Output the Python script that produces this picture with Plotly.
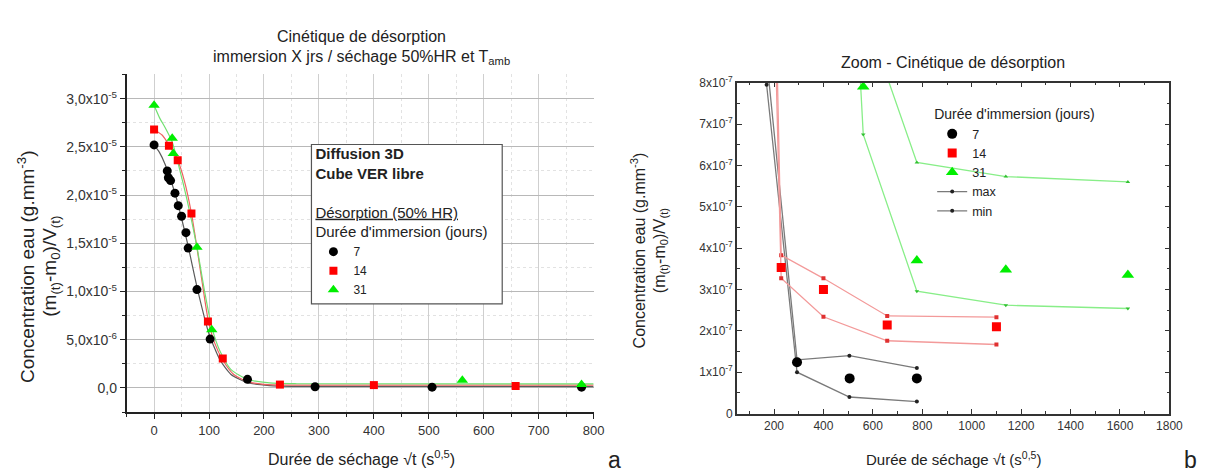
import plotly.graph_objects as go

W, H = 1210, 471
FONT = "Arial, Liberation Sans, sans-serif"

# ---------------- data ----------------
# measured points: sqrt(t) (s^0.5) and concentration (g.mm^-3)
t7 = [0, 24, 26, 30, 38, 44, 50, 58, 62, 78, 102, 170, 293, 506, 778]
c7 = [2.52e-5, 2.25e-5, 2.18e-5, 2.15e-5, 2.02e-5, 1.89e-5, 1.78e-5, 1.61e-5,
      1.45e-5, 1.02e-5, 5.07e-6, 9.0e-7, 1.24e-7, 8.5e-8, 8.5e-8]
t14 = [0, 27, 43, 68, 98, 125, 229, 400, 658, 1100]
c14 = [2.68e-5, 2.51e-5, 2.36e-5, 1.81e-5, 6.9e-6, 3.07e-6, 3.53e-7, 3.0e-7,
       2.14e-7, 2.1e-7]
t31 = [0, 33, 35, 78, 105, 561, 778, 1138, 1632]
c31 = [2.93e-5, 2.59e-5, 2.43e-5, 1.46e-5, 6.05e-6, 7.9e-7, 3.7e-7, 3.48e-7,
       3.35e-7]

# fitted diffusion curves (panel a)
fit7_t = [0, 10, 20, 40, 60, 80, 100, 120, 140, 170, 210, 260, 800]
fit7_c = [2.52e-5, 2.44e-5, 2.32e-5, 1.98e-5, 1.52e-5, 1.0e-5, 5.6e-6, 2.9e-6,
          1.4e-6, 5.5e-7, 2.5e-7, 1.7e-7, 1.5e-7]
fit14_t = [0, 15, 27, 43, 55, 68, 80, 90, 98, 110, 125, 145, 170, 200, 250, 800]
fit14_c = [2.68e-5, 2.62e-5, 2.52e-5, 2.36e-5, 2.15e-5, 1.81e-5, 1.38e-5, 1.0e-5,
           7.2e-6, 4.7e-6, 2.9e-6, 1.4e-6, 6.5e-7, 3.8e-7, 3.0e-7, 2.9e-7]
fit31_t = [0, 10, 20, 33, 45, 60, 78, 92, 105, 120, 140, 170, 210, 260, 800]
fit31_c = [2.93e-5, 2.8e-5, 2.7e-5, 2.55e-5, 2.3e-5, 1.95e-5, 1.46e-5, 1.0e-5,
           6.3e-6, 3.8e-6, 1.9e-6, 9.0e-7, 5.2e-7, 4.4e-7, 4.2e-7]

# max / min envelopes (panel b)
mx7_t = [170, 293, 505, 778]
mx7_c = [8.6e-7, 1.3e-7, 1.4e-7, 1.1e-7]
mn7_t = [170, 293, 505, 778]
mn7_c = [7.95e-7, 1.0e-7, 4.0e-8, 2.9e-8]
mx14_t = [125, 229, 400, 658, 1100]
mx14_c = [3.3e-6, 3.83e-7, 3.27e-7, 2.36e-7, 2.33e-7]
mn14_t = [125, 229, 400, 658, 1100]
mn14_c = [2.85e-6, 3.27e-7, 2.34e-7, 1.76e-7, 1.67e-7]
mx31_t = [105, 561, 778, 1138, 1632]
mx31_c = [6.3e-6, 9.8e-7, 6.07e-7, 5.73e-7, 5.6e-7]
mn31_t = [105, 561, 778, 1138, 1632]
mn31_c = [5.8e-6, 6.75e-7, 2.96e-7, 2.62e-7, 2.54e-7]

# tick labels
ya_vals = [0, 5e-6, 1e-5, 1.5e-5, 2e-5, 2.5e-5, 3e-5]
ya_text = ["0,0", "5,0x10<sup>-6</sup>", "1,0x10<sup>-5</sup>", "1,5x10<sup>-5</sup>",
           "2,0x10<sup>-5</sup>", "2,5x10<sup>-5</sup>", "3,0x10<sup>-5</sup>"]
yb_vals = [0, 1e-7, 2e-7, 3e-7, 4e-7, 5e-7, 6e-7, 7e-7, 8e-7]
yb_text = ["0"] + ["%dx10<sup>-7</sup>" % k for k in range(1, 9)]

series_names = ["7", "14", "31"]

# ---------------- figure ----------------
fig = go.Figure()

# panel a: fitted curves
for ft, fc, col in [(fit7_t, fit7_c, "#5a5a5a"), (fit14_t, fit14_c, "#f06060"),
                    (fit31_t, fit31_c, "#70e070")]:
    fig.add_trace(go.Scatter(x=ft, y=fc, mode="lines", xaxis="x", yaxis="y",
                             line=dict(color=col, width=1.2, shape="spline", smoothing=0.6),
                             showlegend=False, hoverinfo="skip"))

styles = [("circle", 9, "#000000"), ("square", 8, "#ff0000"), ("triangle-up", 10, "#00ee00")]
data = [(t7, c7), (t14, c14), (t31, c31)]

# panel a: points
for (tt, cc), (sym, sz, col), nm in zip(data, styles, series_names):
    fig.add_trace(go.Scatter(x=tt, y=cc, mode="markers", xaxis="x", yaxis="y",
                             marker=dict(symbol=sym, size=sz, color=col),
                             name=nm, legend="legend"))

# panel b: envelopes
env = [
    (mx7_t, mx7_c, "#7a7a7a", "circle", "#222222", "max", True, 4),
    (mn7_t, mn7_c, "#7a7a7a", "circle", "#222222", "min", True, 5),
    (mx14_t, mx14_c, "#f39a9a", "square", "#e03030", "max", False, 6),
    (mn14_t, mn14_c, "#f39a9a", "square", "#e03030", "min", False, 7),
    (mx31_t, mx31_c, "#88ee88", "triangle-up", "#30c030", "max", False, 8),
    (mn31_t, mn31_c, "#88ee88", "triangle-down", "#30c030", "min", False, 9),
]
for tt, cc, lc, sym, mc, nm, sl, rk in env:
    fig.add_trace(go.Scatter(x=tt, y=cc, mode="lines+markers", xaxis="x2", yaxis="y2",
                             line=dict(color=lc, width=1.3),
                             marker=dict(symbol=sym, size=4, color=mc),
                             name=nm, showlegend=sl, legend="legend2", legendrank=rk))

# panel b: points
for i, ((tt, cc), (sym, sz, col), nm) in enumerate(zip(data, styles, series_names)):
    fig.add_trace(go.Scatter(x=tt, y=cc, mode="markers", xaxis="x2", yaxis="y2",
                             marker=dict(symbol=sym, size=sz + 1, color=col),
                             name=nm, legend="legend2", legendrank=i + 1))

def px(x):
    return x / W

def py(y):
    return 1 - y / H

tick_font_a = dict(family=FONT, size=13, color="#333333")
tick_font_b = dict(family=FONT, size=12, color="#333333")

fig.update_layout(
    width=W, height=H,
    margin=dict(l=0, r=0, t=0, b=0),
    paper_bgcolor="white", plot_bgcolor="white",
    font=dict(family=FONT, color="#222222"),
    xaxis=dict(domain=[px(120), px(592.5)], anchor="y", range=[-50, 800],
               tick0=0, dtick=100, ticks="outside", ticklen=5, tickwidth=1.2,
               tickcolor="#222", showline=True, linecolor="#222", linewidth=1.6,
               showgrid=True, gridcolor="#cfcfcf", gridwidth=1, zeroline=False,
               tickfont=tick_font_a,
               minor=dict(tick0=0, dtick=50, ticks="outside", ticklen=3,
                          tickcolor="#222", showgrid=True, gridcolor="#e2e2e2",
                          griddash="dot")),
    yaxis=dict(domain=[py(409), py(59.5)], anchor="x", range=[-2.5e-6, 3.25e-5],
               tickmode="array", tickvals=ya_vals, ticktext=ya_text,
               ticks="outside", ticklen=5, tickwidth=1.2, tickcolor="#222",
               showline=True, linecolor="#222", linewidth=1.6,
               showgrid=True, gridcolor="#b8b8b8", gridwidth=1, zeroline=False,
               tickfont=dict(family=FONT, size=14, color="#333333"),
               minor=dict(tickmode="linear", tick0=0, dtick=2.5e-6, ticks="outside",
                          ticklen=3, tickcolor="#222", showgrid=True,
                          gridcolor="#e2e2e2", griddash="dot")),
    xaxis2=dict(domain=[px(737.5), px(1175)], anchor="y2", range=[50, 1800],
                tick0=0, dtick=200, ticks="inside", ticklen=5, tickwidth=1.2,
                tickcolor="#333", showline=True, linecolor="#333", linewidth=1.6,
                mirror="ticks", showgrid=False, zeroline=False, tickfont=tick_font_b,
                minor=dict(tick0=0, dtick=100, ticks="inside", ticklen=3,
                           tickcolor="#333", showgrid=False)),
    yaxis2=dict(domain=[py(410.5), py(68)], anchor="x2", range=[0, 8e-7],
                tickmode="array", tickvals=yb_vals, ticktext=yb_text,
                ticks="inside", ticklen=5, tickwidth=1.2, tickcolor="#333",
                showline=True, linecolor="#333", linewidth=1.6, mirror="ticks",
                showgrid=False, zeroline=False, tickfont=tick_font_b,
                minor=dict(tickmode="linear", tick0=0, dtick=5e-8, ticks="inside",
                           ticklen=3, tickcolor="#333", showgrid=False)),
    legend=dict(x=px(309), y=py(127), xanchor="left", yanchor="top",
                bgcolor="rgba(0,0,0,0)", borderwidth=0,
                font=dict(family=FONT, size=12, color="#222"),
                title=dict(text="<b>Diffusion 3D</b><br><b>Cube VER libre</b><br> <br>"
                                "<u>Désorption (50% HR)</u><br>Durée d'immersion (jours)",
                           font=dict(family=FONT, size=15, color="#222")),
                tracegroupgap=0),
    legend2=dict(x=px(935), y=py(87), xanchor="left", yanchor="top",
                 bgcolor="rgba(0,0,0,0)", borderwidth=0,
                 font=dict(family=FONT, size=12.5, color="#222"),
                 title=dict(text="Durée d'immersion (jours)",
                            font=dict(family=FONT, size=14, color="#222")),
                 tracegroupgap=0, traceorder="normal"),
    shapes=[dict(type="rect", xref="paper", yref="paper", layer="above",
                 x0=px(307), x1=px(500), y0=py(297), y1=py(132),
                 line=dict(color="#555555", width=1.2), fillcolor="white")],
)

ann = [
    (358, 20, "Cinétique de désorption", 16, 0),
    (358, 42, "immersion X jrs / séchage 50%HR et T<sub>amb</sub>", 16, 0),
    (358, 456, "Durée de séchage √t (s<sup>0,5</sup>)", 16, 0),
    (18, 258, "Concentration eau (g.mm<sup>-3</sup>)", 19, -90),
    (44, 258, "(m<sub>(t)</sub>-m<sub>0</sub>)/V<sub>(t)</sub>", 19, -90),
    (956, 47, "Zoom - Cinétique de désorption", 16, 0),
    (957, 457, "Durée de séchage √t (s<sup>0,5</sup>)", 15, 0),
    (637, 242, "Concentration eau (g.mm<sup>-3</sup>)", 16, -90),
    (660, 242, "(m<sub>(t)</sub>-m<sub>0</sub>)/V<sub>(t)</sub>", 16, -90),
    (614, 459, "a", 23, 0),
    (1196, 459, "b", 23, 0),
]
fig.update_layout(annotations=[
    dict(x=px(x), y=py(y), xref="paper", yref="paper", text=t, showarrow=False,
         xanchor="center", yanchor="middle", textangle=a,
         font=dict(family=FONT, size=s, color="#222"))
    for x, y, t, s, a in ann
])

fig.write_html("out.html")
